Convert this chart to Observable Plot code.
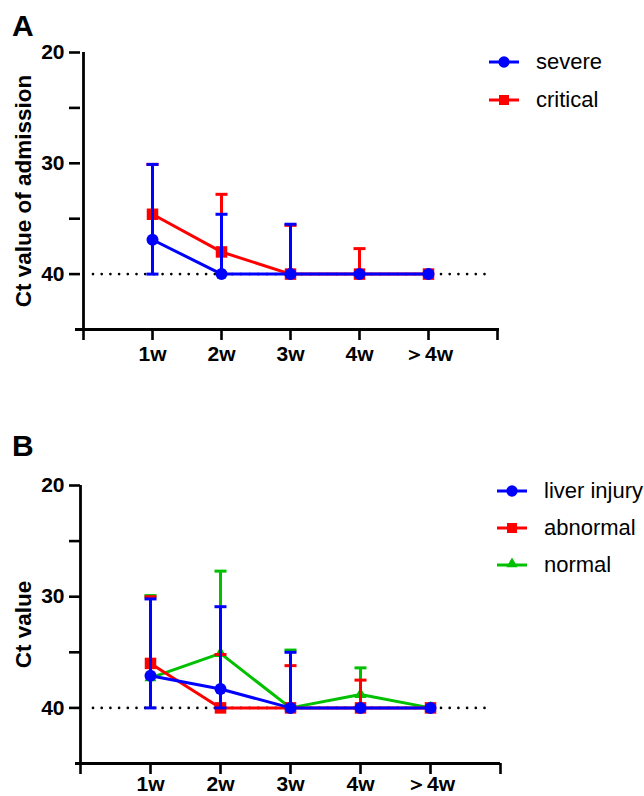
<!DOCTYPE html>
<html><head><meta charset="utf-8">
<script src="https://cdn.jsdelivr.net/npm/d3@7"></script>
<script src="https://cdn.jsdelivr.net/npm/@observablehq/plot@0.6"></script>
<style>
body{margin:0;background:#fff;}
#wrap{position:relative;width:644px;height:796px;overflow:hidden;background:#fff;font-family:"Liberation Sans",Arial,sans-serif;color:#000;}
.letter{position:absolute;left:12px;font-size:30px;font-weight:bold;line-height:30px;}
.leg{position:absolute;display:flex;align-items:center;height:24px;font-size:22px;line-height:24px;white-space:nowrap;}
.leg svg{margin-right:17px;flex:none;}
.panel{position:absolute;left:0;}
</style></head>
<body><div id="wrap"></div>
<script>
// ---- data ----
const weeks = ["1w", "2w", "3w", "4w", "＞4w"];
const xDomain = ["start", ...weeks, "end"];

// Panel A
const severeMean  = [36.9, 40, 40, 40, 40];
const severeUpper = [30.1, 34.6, 35.5, 40, 40];
const severeLower = [40, 40, 40, 40, 40];
const criticalMean  = [34.6, 38.0, 40, 40, 40];
const criticalUpper = [30.1, 32.8, 35.6, 37.7, 40];
const criticalLower = [34.6, 38.0, 40, 40, 40];

// Panel B
const liverMean  = [37.1, 38.3, 40, 40, 40];
const liverUpper = [30.2, 30.9, 35.0, 40, 40];
const liverLower = [40, 40, 40, 40, 40];
const abnormalMean  = [36.0, 40, 40, 40, 40];
const abnormalUpper = [30.0, 35.2, 36.2, 37.5, 40];
const abnormalLower = [36.0, 40, 40, 40, 40];
const normalMean  = [37.3, 35.1, 40, 38.8, 40];
const normalUpper = [29.9, 27.7, 34.8, 36.4, 40];
const normalLower = [37.3, 35.1, 40, 38.8, 40];

const yTicks = [20, 25, 30, 35, 40];
const BLUE = "#0000ff", RED = "#ff0000", GREEN = "#00c000";

// ---- helpers ----
const capSymbol = {draw(context, size) {
  const r = Math.sqrt(size / Math.PI);
  context.moveTo(-r, 0); context.lineTo(r, 0);
}};

function buildRows(s) {
  return weeks.map((w, i) => ({series: s.name, week: w, mean: s.mean[i], upper: s.upper[i], lower: s.lower[i]}));
}

function panel({series, yLabel, height, marginTop, marginBottom, marginRight, xPad}) {
  const marks = [
    Plot.ruleY([40], {stroke: "black", strokeWidth: 2.7, strokeDasharray: "0 8.7", strokeLinecap: "round", insetLeft: 13, insetRight: 9})
  ];
  for (const s of series) {
    const data = buildRows(s);
    const up = data.filter(d => d.upper < d.mean);
    const lo = data.filter(d => d.lower > d.mean);
    marks.push(
      Plot.ruleX(up, {x: "week", y1: "mean", y2: "upper", stroke: s.color, strokeWidth: 3}),
      Plot.dot(up, {x: "week", y: "upper", symbol: capSymbol, r: 6, fill: "none", stroke: s.color, strokeWidth: 3}),
      Plot.ruleX(lo, {x: "week", y1: "mean", y2: "lower", stroke: s.color, strokeWidth: 3}),
      Plot.dot(lo, {x: "week", y: "lower", symbol: capSymbol, r: 6, fill: "none", stroke: s.color, strokeWidth: 3}),
      Plot.line(data, {x: "week", y: "mean", stroke: s.color, strokeWidth: 3}),
      Plot.dot(data, {x: "week", y: "mean", symbol: s.symbol, r: s.r, fill: s.color, stroke: "none"})
    );
  }
  marks.push(
    Plot.ruleX(["start"], {stroke: "black", strokeWidth: 2.8}),
    Plot.ruleY([45], {stroke: "black", strokeWidth: 2.8, insetLeft: -5}),
    Plot.axisY({ticks: yTicks, tickFormat: d => d % 10 === 0 ? String(d) : "", tickSize: 11, tickPadding: 5, fontSize: 21, strokeWidth: 2.6, label: null}),
    Plot.axisX({tickSize: 11, tickPadding: xPad, fontSize: 21, strokeWidth: 2.6, tickFormat: d => weeks.includes(d) ? d : "", label: null}),
    Plot.text([yLabel], {frameAnchor: "left", textAnchor: "middle", rotate: -90, dx: -57, fontSize: 22.5, fontWeight: "bold"})
  );
  return Plot.plot({
    width: 644, height, marginTop, marginBottom, marginLeft: 80, marginRight,
    x: {type: "point", domain: xDomain, padding: 0},
    y: {domain: [20, 45], reverse: true},
    style: {fontFamily: "'Liberation Sans', Arial, sans-serif", fontWeight: "bold", background: "white", color: "black", overflow: "visible"},
    marks
  });
}

function swatch(color, symbol) {
  const ns = "http://www.w3.org/2000/svg";
  const svg = document.createElementNS(ns, "svg");
  svg.setAttribute("width", 30); svg.setAttribute("height", 16);
  const line = document.createElementNS(ns, "line");
  line.setAttribute("x1", 0); line.setAttribute("x2", 30); line.setAttribute("y1", 8); line.setAttribute("y2", 8);
  line.setAttribute("stroke", color); line.setAttribute("stroke-width", 3);
  svg.appendChild(line);
  const p = document.createElementNS(ns, "path");
  const size = symbol === d3.symbolTriangle ? 55 : 100;
  p.setAttribute("d", d3.symbol(symbol, size)());
  p.setAttribute("transform", symbol === d3.symbolTriangle ? "translate(15,7)" : "translate(15,8)");
  p.setAttribute("fill", color);
  svg.appendChild(p);
  return svg;
}

function legend(wrap, items, left, rows) {
  items.forEach((it, i) => {
    const div = document.createElement("div");
    div.className = "leg";
    div.style.left = left + "px";
    div.style.top = (rows[i] - 13) + "px";
    div.appendChild(swatch(it.color, it.symbol));
    const sp = document.createElement("span");
    sp.textContent = it.name;
    div.appendChild(sp);
    wrap.appendChild(div);
  });
}

const wrap = document.getElementById("wrap");

const seriesA = [
  {name: "critical", mean: criticalMean, upper: criticalUpper, lower: criticalLower, color: RED, symbol: "square", r: 6.5},
  {name: "severe", mean: severeMean, upper: severeUpper, lower: severeLower, color: BLUE, symbol: "circle", r: 6}
];
const seriesB = [
  {name: "normal", mean: normalMean, upper: normalUpper, lower: normalLower, color: GREEN, symbol: "triangle", r: 4.5},
  {name: "abnormal", mean: abnormalMean, upper: abnormalUpper, lower: abnormalLower, color: RED, symbol: "square", r: 6.5},
  {name: "liver injury", mean: liverMean, upper: liverUpper, lower: liverLower, color: BLUE, symbol: "circle", r: 6}
];

const a = panel({series: seriesA, yLabel: "Ct value of admission", height: 400, marginTop: 52, marginBottom: 71, marginRight: 145, xPad: 6});
a.classList.add("panel"); a.style.top = "0px";
wrap.appendChild(a);

const b = panel({series: seriesB, yLabel: "Ct value", height: 396, marginTop: 85, marginBottom: 33, marginRight: 144, xPad: 2});
b.classList.add("panel"); b.style.top = "400px";
wrap.appendChild(b);

const la = document.createElement("div"); la.className = "letter"; la.style.top = "11px"; la.textContent = "A"; wrap.appendChild(la);
const lb = document.createElement("div"); lb.className = "letter"; lb.style.top = "431px"; lb.textContent = "B"; wrap.appendChild(lb);

legend(wrap, [
  {name: "severe", color: BLUE, symbol: d3.symbolCircle},
  {name: "critical", color: RED, symbol: d3.symbolSquare}
], 489, [63, 101]);
legend(wrap, [
  {name: "liver injury", color: BLUE, symbol: d3.symbolCircle},
  {name: "abnormal", color: RED, symbol: d3.symbolSquare},
  {name: "normal", color: GREEN, symbol: d3.symbolTriangle}
], 497, [492, 529, 566]);
</script>
</body></html>
